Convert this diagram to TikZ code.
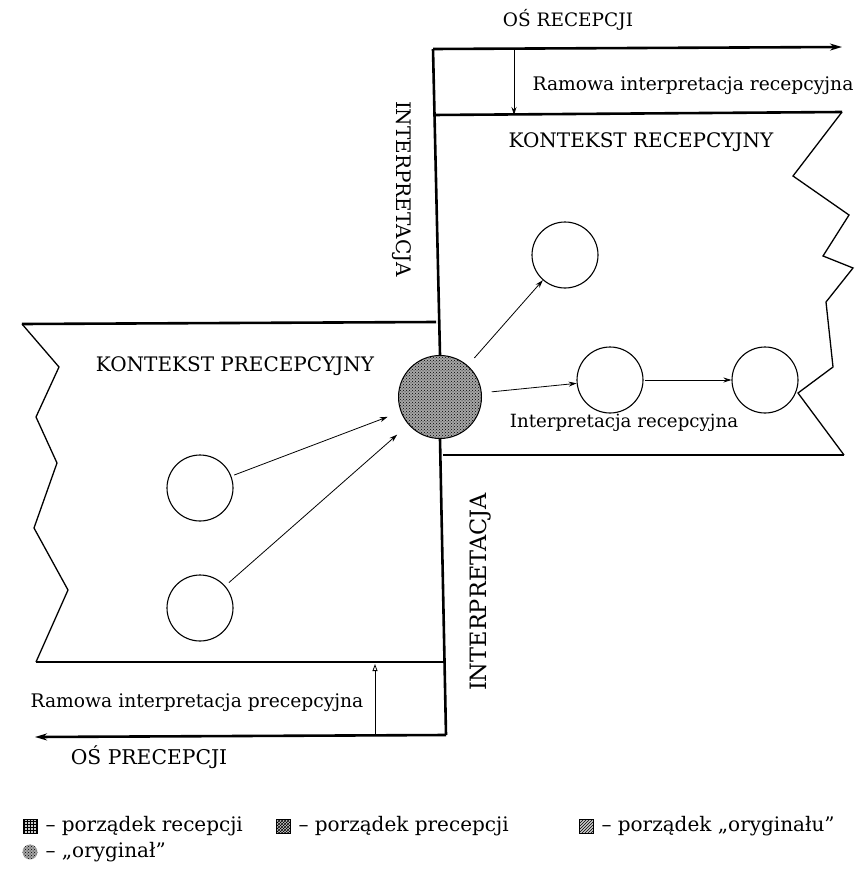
\documentclass[tikz,border=0pt]{standalone}
\usepackage{fontspec}
\setmainfont{DejaVu Serif}
\usetikzlibrary{patterns,arrows.meta}
\begin{document}
\begin{tikzpicture}[x=1pt,y=-1pt,>=Stealth,
	frame/.style={line width=2.6pt},
	zig/.style={line width=1.3pt,line join=miter},
	item/.style={circle,draw,line width=1.1pt,minimum size=66pt,inner sep=0pt},
	link/.style={-{Stealth[length=8pt,width=5pt]},line width=0.8pt},
	fs/.style={font=\fontsize{#1}{#1}\selectfont},
	caps/.style={fs=20},
	txt/.style={fs=18.7},
	grain/.style={fill=gray!70,postaction={pattern=crosshatch dots,pattern color=black}}]
	\useasboundingbox (0,0) rectangle (857,872);
	% os recepcji i kontekst recepcyjny
	\coordinate (ta) at (433,49);
	\coordinate (tb) at (842,47);
	\coordinate (ra) at (433,115);
	\coordinate (rb) at (443,455);
	\draw[frame,-{Stealth[length=12pt,width=7pt]}] (ta) -- (tb);
	\draw[frame] (ra) -- (842,112);
	\draw[frame] (rb) -- (844,455);
	\draw[zig] (842,112) -- (793,176) -- (849,215) -- (823,256) -- (853,268) -- (826,302) -- (833,367) -- (798,393) -- (844,455);
	\draw[link] (514,49) -- (514,115);
	% os precepcji i kontekst precepcyjny
	\coordinate (ba) at (446,735);
	\coordinate (bb) at (35,737);
	\draw[frame,-{Stealth[length=12pt,width=7pt]}] (ba) -- (bb);
	\draw[frame] (22,324) -- (436,322);
	\draw[frame] (36,662) -- (446,662);
	\draw[zig] (22,324) -- (59,367) -- (36,417) -- (57,463) -- (34,528) -- (68,590) -- (36,662);
	\draw[-{Triangle[open,length=7pt,width=5pt]},line width=0.8pt] (375,735) -- (375,664);
	% oryginal
	\node[circle,draw,line width=1pt,minimum size=83pt,inner sep=0pt,grain] (orig) at (440,397) {};
	\draw[frame] (ta) -- (orig.north);
	\draw[frame] (orig.south) -- (ba);
	\node[item] (r1) at (565,255) {};
	\node[item] (r2) at (610,380) {};
	\node[item] (r3) at (765,380) {};
	\node[item] (p1) at (200,488) {};
	\node[item] (p2) at (200,608) {};
	\draw[link,shorten <=10pt] (orig) -- (r1);
	\draw[link,shorten <=10pt] (orig) -- (r2);
	\draw[link,shorten <=1pt] (r2) -- (r3);
	\draw[link,shorten <=3pt,shorten >=14pt] (p1) -- (orig);
	\draw[link,shorten <=5pt,shorten >=15pt] (p2) -- (orig);
	% napisy
	\node[fs=18.5] (osr) at (568,20) {OŚ RECEPCJI};
	\node[txt] (rir) at (693,86) {Ramowa interpretacja recepcyjna};
	\node[caps] (kr) at (641,142) {KONTEKST RECEPCYJNY};
	\node[caps,rotate=-90] (i1) at (402,189) {INTERPRETACJA};
	\node[caps] (kp) at (235,366) {KONTEKST PRECEPCYJNY};
	\node[fs=18.2] (ir) at (624,423) {Interpretacja recepcyjna};
	\node[fs=22.5,rotate=90] (i2) at (480,592) {INTERPRETACJA};
	\node[txt] (rip) at (197,703) {Ramowa interpretacja precepcyjna};
	\node[fs=20.3] (osp) at (149,757) {OŚ PRECEPCJI};
	% legenda
	\foreach \x/\p/\t in {30/grid/porządek recepcji,283/crosshatch/porządek precepcji,586/north east lines/porządek „oryginału”}{
		\draw[line width=0.6pt,fill=gray!40,postaction={pattern=\p}] (\x-7,819) rectangle (\x+7,833);
		\node[fs=20,anchor=west] at (\x+12,826) {– \t};
	}
	\node[circle,inner sep=0pt,minimum size=15pt,grain] (lo) at (30,852) {};
	\node[fs=20,anchor=west] (lt) at (42,852) {– „oryginał”};
\end{tikzpicture}
\end{document}
